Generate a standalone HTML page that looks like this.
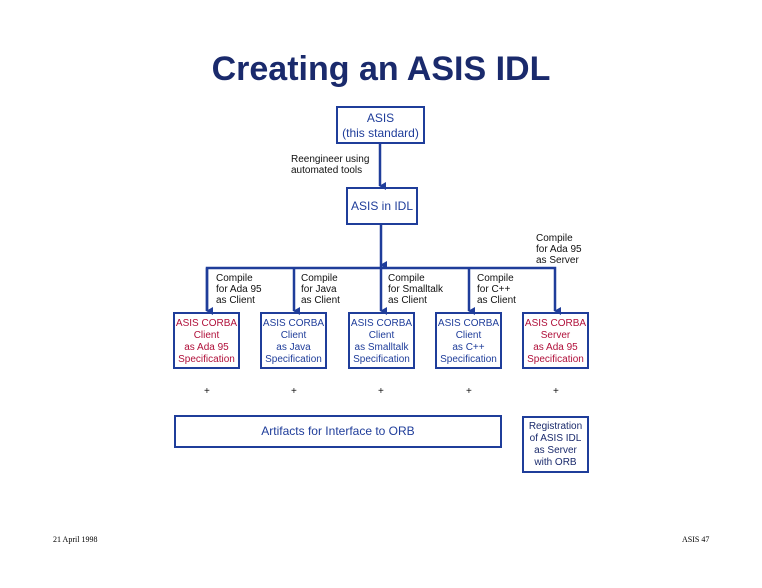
<!DOCTYPE html><html><head><style>
body{margin:0;width:762px;height:588px;background:#fff;position:relative;font-family:"Liberation Sans",sans-serif;overflow:hidden}
.t{position:absolute;font-size:10px;line-height:11px;color:#111}
.b{position:absolute;border:2px solid #1f3d9a;box-sizing:border-box;text-align:center;font-size:10px;line-height:12px;color:#1f3d9a}
.r{color:#b0103a}
</style></head><body>
<div style="position:absolute;left:0;width:762px;top:50px;text-align:center;font-size:34px;font-weight:bold;color:#1a2a6c">Creating an ASIS IDL</div>
<svg width="762" height="588" style="position:absolute;left:0;top:0">
<defs><marker id="a" markerWidth="8" markerHeight="8" refX="4" refY="6" orient="auto" markerUnits="userSpaceOnUse"><path d="M0,0 L8,0 L4,7z" fill="#1f3d9a"/></marker></defs>
<g stroke="#1f3d9a" stroke-width="2.5" fill="none">
<line x1="380" y1="143" x2="380" y2="186" marker-end="url(#a)"/>
<line x1="381" y1="224" x2="381" y2="265" marker-end="url(#a)"/>
<polyline points="207,311 207,268 555,268 555,311" marker-end="url(#a)"/>
<line x1="207" y1="268" x2="207" y2="311" marker-end="url(#a)"/>
<line x1="294" y1="268" x2="294" y2="311" marker-end="url(#a)"/>
<line x1="381" y1="265" x2="381" y2="311" marker-end="url(#a)"/>
<line x1="469" y1="268" x2="469" y2="311" marker-end="url(#a)"/>
</g></svg>
<div class="b" style="left:336px;top:106px;width:89px;height:38px;font-size:12px;line-height:15px;padding-top:3px">ASIS<br>(this standard)</div>
<div class="t" style="left:291px;top:154px">Reengineer using<br>automated tools</div>
<div class="b" style="left:346px;top:187px;width:72px;height:38px;font-size:12px;line-height:34px">ASIS in IDL</div>
<div class="t" style="left:536px;top:233px">Compile<br>for Ada 95<br>as Server</div>
<div class="t" style="left:216px;top:273px">Compile<br>for Ada 95<br>as Client</div>
<div class="t" style="left:301px;top:273px">Compile<br>for Java<br>as Client</div>
<div class="t" style="left:388px;top:273px">Compile<br>for Smalltalk<br>as Client</div>
<div class="t" style="left:477px;top:273px">Compile<br>for C++<br>as Client</div>
<div class="b r" style="left:173px;top:312px;width:67px;height:57px;padding-top:4px">ASIS CORBA<br>Client<br>as Ada 95<br>Specification</div>
<div class="b" style="left:260px;top:312px;width:67px;height:57px;padding-top:4px">ASIS CORBA<br>Client<br>as Java<br>Specification</div>
<div class="b" style="left:348px;top:312px;width:67px;height:57px;padding-top:4px">ASIS CORBA<br>Client<br>as Smalltalk<br>Specification</div>
<div class="b" style="left:435px;top:312px;width:67px;height:57px;padding-top:4px">ASIS CORBA<br>Client<br>as C++<br>Specification</div>
<div class="b r" style="left:522px;top:312px;width:67px;height:57px;padding-top:4px">ASIS CORBA<br>Server<br>as Ada 95<br>Specification</div>
<div class="t" style="left:204px;top:386px">+</div>
<div class="t" style="left:291px;top:386px">+</div>
<div class="t" style="left:378px;top:386px">+</div>
<div class="t" style="left:466px;top:386px">+</div>
<div class="t" style="left:553px;top:386px">+</div>
<div class="b" style="left:174px;top:415px;width:328px;height:33px;font-size:12px;line-height:29px">Artifacts for Interface to ORB</div>
<div class="b" style="left:522px;top:416px;width:67px;height:57px;padding-top:3px;color:#1a2a6c">Registration<br>of ASIS IDL<br>as Server<br>with ORB</div>
<div style="position:absolute;left:53px;top:535px;font-family:'Liberation Serif',serif;font-size:8px">21 April 1998</div>
<div style="position:absolute;left:682px;top:535px;font-family:'Liberation Serif',serif;font-size:8px">ASIS 47</div>
</body></html>
